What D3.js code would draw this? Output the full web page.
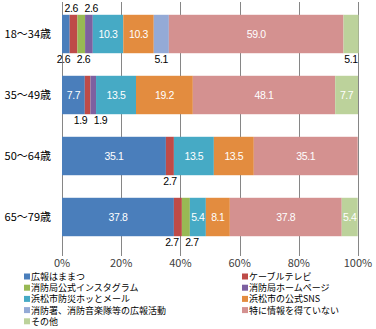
<!DOCTYPE html>
<html>
<head>
<meta charset="utf-8">
<script src="https://cdn.jsdelivr.net/npm/d3@7"></script>
<style>
  body { margin: 0; background: #fff; }
  text { font-family: "Noto Sans CJK JP", "Noto Sans", sans-serif; }
  .num { font-family: "Liberation Sans", Arial, sans-serif; letter-spacing: -0.4px; }
</style>
</head>
<body>
<div id="chart"></div>
<script>
// Age groups (rows) and answer categories (stack order)
const groups = ["18～34歳", "35～49歳", "50～64歳", "65～79歳"];
const categories = [
    "広報はままつ", "ケーブルテレビ", "消防局公式インスタグラム", "消防局ホームページ",
    "浜松市防災ホッとメール", "浜松市の公式SNS", "消防署、消防音楽隊等の広報活動",
    "特に情報を得ていない", "その他"
];
const colors = ["#4A7EBB", "#BE4B48", "#98B954", "#7D60A0", "#46AAC5",
                "#E38C3F", "#94AAD6", "#D49190", "#BCD29B"];

// percentages per group, same order as categories
const v1834 = [2.6, 2.6, 2.6, 2.6, 10.3, 10.3, 5.1, 59.0, 5.1];
const v3549 = [7.7, 1.9, 0, 1.9, 13.5, 19.2, 0, 48.1, 7.7];
const v5064 = [35.1, 2.7, 0, 0, 13.5, 13.5, 0, 35.1, 0];
const v6579 = [37.8, 2.7, 2.7, 0, 5.4, 8.1, 0, 37.8, 5.4];
const values = [v1834, v3549, v5064, v6579];

const ticks = [0, 20, 40, 60, 80, 100];

// small labels that sit above the bar instead of below
const aboveLabels = [[0, 1], [0, 3]];

const width = 376, height = 329;
const plot = { left: 62, right: 358, top: 2, bottom: 256 };

const svg = d3.select("#chart")
    .append("svg")
    .attr("width", width)
    .attr("height", height);

const x = d3.scaleLinear().domain([0, 100]).range([plot.left, plot.right]);
const y = d3.scaleBand().domain(groups).range([3.5, 247.5]).paddingInner(0.37).paddingOuter(0.185);

// vertical gridlines
svg.append("g")
    .selectAll("line")
    .data(ticks)
    .enter()
    .append("line")
    .attr("x1", d => Math.round(x(d)) + 0.5)
    .attr("x2", d => Math.round(x(d)) + 0.5)
    .attr("y1", plot.top)
    .attr("y2", plot.bottom)
    .attr("stroke", "#868686")
    .attr("stroke-width", 1);

// tick labels
svg.append("g")
    .selectAll("text")
    .data(ticks)
    .enter()
    .append("text")
    .attr("x", d => x(d))
    .attr("y", 267)
    .attr("text-anchor", "middle")
    .style("font-size", "11px")
    .style("fill", "#404040")
    .text(d => d + "%");

// group labels
svg.append("g")
    .selectAll("text")
    .data(groups)
    .enter()
    .append("text")
    .attr("x", 51)
    .attr("y", d => y(d) + y.bandwidth() / 2 + 4)
    .attr("text-anchor", "end")
    .style("font-size", "11px")
    .style("fill", "#000")
    .text(d => d);

// stacked segments
const segs = [];
values.forEach(function(row, gi) {
    let acc = 0;
    row.forEach(function(v, ci) {
        segs.push({ g: groups[gi], gi: gi, ci: ci, v: v, x0: acc, x1: acc + v });
        acc += v;
    });
});

svg.append("g")
    .selectAll("rect")
    .data(segs.filter(d => d.v > 0))
    .enter()
    .append("rect")
    .attr("x", d => x(d.x0))
    .attr("y", d => y(d.g))
    .attr("width", d => x(d.x1) - x(d.x0))
    .attr("height", y.bandwidth())
    .attr("fill", d => colors[d.ci]);

// value labels: inside for wide segments, outside (dodged) for narrow ones
const labels = segs.filter(d => d.v > 0).map(function(d) {
    const inside = d.v > 5.2;
    const above = aboveLabels.some(a => a[0] === d.gi && a[1] === d.ci);
    return {
        d: d,
        inside: inside,
        side: inside ? 0 : (above ? -1 : 1),
        cx: x((d.x0 + d.x1) / 2),
        text: d.v.toFixed(1)
    };
});

const labelW = 20;
groups.forEach(function(g, gi) {
    [-1, 1].forEach(function(side) {
        const row = labels.filter(l => l.d.gi === gi && l.side === side);
        for (let i = 1; i < row.length; i++) {
            const gap = row[i].cx - row[i - 1].cx;
            if (gap < labelW) {
                const shift = (labelW - gap) / 2;
                row[i - 1].cx -= shift;
                row[i].cx += shift;
            }
        }
    });
});

svg.append("g")
    .selectAll("text")
    .data(labels)
    .enter()
    .append("text")
    .attr("class", "num")
    .attr("x", l => l.cx)
    .attr("y", function(l) {
        const top = y(l.d.g), bot = top + y.bandwidth();
        if (l.side === 0) return top + y.bandwidth() / 2 + 4;
        if (l.side < 0) return top - 3;
        return bot + 10;
    })
    .attr("text-anchor", "middle")
    .style("font-size", "10.5px")
    .style("fill", l => l.inside ? "#fff" : "#000")
    .text(l => l.text);

// legend, two columns
const legend = svg.append("g")
    .selectAll("g")
    .data(categories)
    .enter()
    .append("g")
    .attr("transform", (d, i) => `translate(${i % 2 === 0 ? 24 : 242},${277 + Math.floor(i / 2) * 11.2})`);

legend.append("rect")
    .attr("x", 0)
    .attr("y", -3.5)
    .attr("width", 6)
    .attr("height", 6)
    .attr("fill", (d, i) => colors[i]);

legend.append("text")
    .attr("x", 7)
    .attr("y", 3)
    .style("font-size", "9px")
    .style("fill", "#000")
    .text(d => d);
</script>
</body>
</html>
